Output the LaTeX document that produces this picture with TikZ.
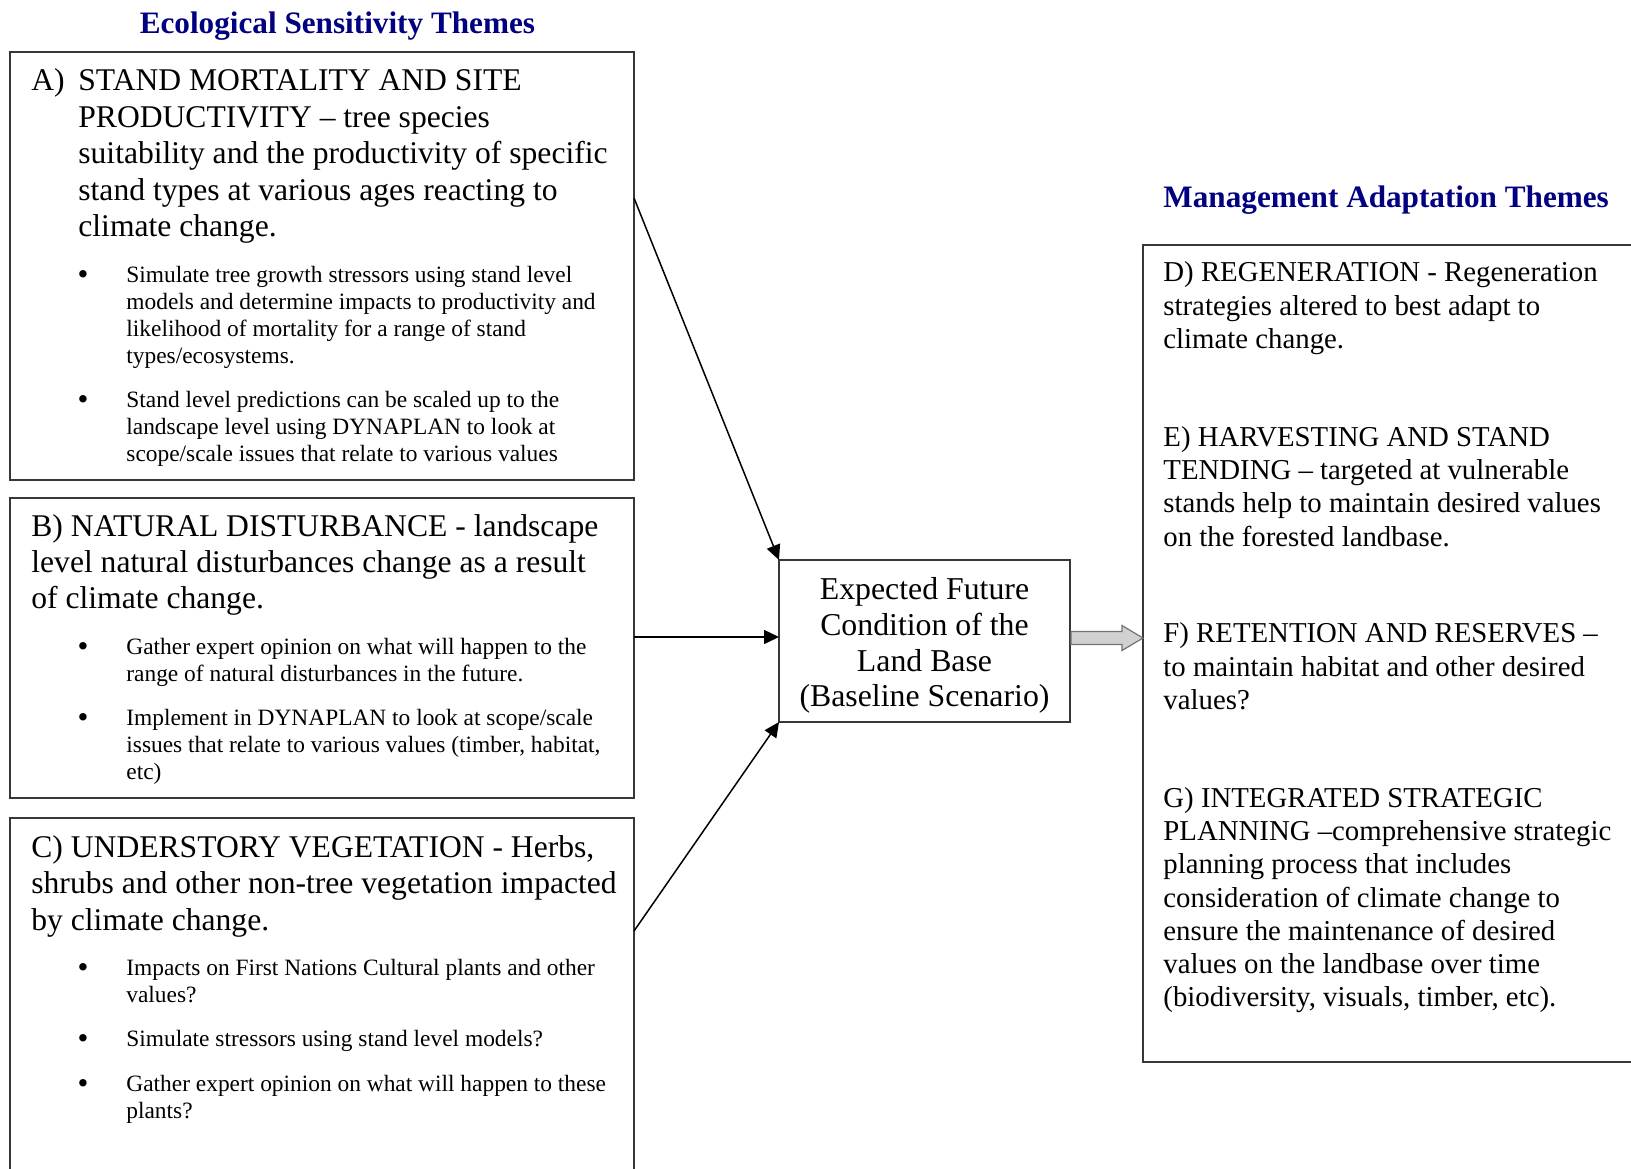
\documentclass[tikz,border=0pt]{standalone}
\usepackage{fontspec}
\setmainfont{Liberation Serif}
\usetikzlibrary{arrows.meta,calc}
\definecolor{navyt}{RGB}{0,0,128}
\definecolor{boxline}{RGB}{55,55,55}
\begin{document}
\begin{tikzpicture}[x=0.5pt,y=-0.5pt,
  box/.style={draw=boxline,line width=0.9pt,anchor=north west,inner sep=0pt,outer sep=0pt},
  ttl/.style={anchor=base west,inner sep=0pt,text=navyt,font=\fontsize{15.6}{18}\selectfont\bfseries},
  head/.style={anchor=north west,inner sep=0pt,align=left,font=\fontsize{15.8}{18.2}\selectfont},
  lbl/.style={anchor=base west,inner sep=0pt,font=\fontsize{15.8}{18.2}\selectfont},
  btxt/.style={anchor=north west,inner sep=0pt,align=left,font=\fontsize{11.7}{13.5}\selectfont},
  bdot/.style={anchor=base,inner sep=0pt,yshift=-1.2pt,font=\fontsize{15.5}{13.5}\selectfont},
  ctxt/.style={anchor=north,inner sep=0pt,align=center,font=\fontsize{15.9}{17.85}\selectfont},
  rtxt/.style={anchor=north west,inner sep=0pt,align=left,font=\fontsize{14.4}{16.65}\selectfont},
  arr/.style={line width=0.75pt,-{Triangle[length=7.5pt,width=7pt]}},
  blockarrow/.style={draw=black!55,fill=black!18,line width=0.6pt},
]
\clip (0,0) rectangle (1631,1168);

% titles
\node[ttl] (t1) at (139.4,33.3) {Ecological Sensitivity Themes};
\node[ttl] (t2) at (1163,207) {Management Adaptation Themes};

% boxes
\node[box,minimum width=312pt,minimum height=214pt] (A) at (10,52) {};
\node[box,minimum width=312pt,minimum height=150pt] (B) at (10,498) {};
\node[box,minimum width=312pt,minimum height=185pt] (C) at (10,818) {};
\node[box,minimum width=145.5pt,minimum height=81pt] (E) at (779,560) {};
\node[box,minimum width=251pt,minimum height=408.5pt] (R) at (1143,245) {};

% box A text
\node[lbl] (Alab) at (31,90.5) {A)};
\node[head] (Ahead) at (78,65) {\strut STAND MORTALITY AND SITE\\PRODUCTIVITY – tree species\\suitability and the productivity of specific\\stand types at various ages reacting to\\climate change.};
\node[bdot] (Ad1) at (83,281.9) {•};
\node[btxt] (Ab1) at (126,263) {\strut Simulate tree growth stressors using stand level\\models and determine impacts to productivity and\\likelihood of mortality for a range of stand\\types/ecosystems.};
\node[bdot] (Ad2) at (83,406.7) {•};
\node[btxt] (Ab2) at (126,387.8) {\strut Stand level predictions can be scaled up to the\\landscape level using DYNAPLAN to look at\\scope/scale issues that relate to various values};

% box B text
\node[head] (Bhead) at (31,510.2) {\strut B) NATURAL DISTURBANCE - landscape\\level natural disturbances change as a result\\of climate change.};
\node[bdot] (Bd1) at (83,654.3) {•};
\node[btxt] (Bb1) at (126,635.4) {\strut Gather expert opinion on what will happen to the\\range of natural disturbances in the future.};
\node[bdot] (Bd2) at (83,725) {•};
\node[btxt] (Bb2) at (126,706.1) {\strut Implement in DYNAPLAN to look at scope/scale\\issues that relate to various values (timber, habitat,\\etc)};

% box C text
\node[head] (Chead) at (31,831.6) {\strut C) UNDERSTORY VEGETATION - Herbs,\\shrubs and other non-tree vegetation impacted\\by climate change.};
\node[bdot] (Cd1) at (83,974.7) {•};
\node[btxt] (Cb1) at (126,955.8) {\strut Impacts on First Nations Cultural plants and other\\values?};
\node[bdot] (Cd2) at (83,1046.4) {•};
\node[btxt] (Cb2) at (126,1027.5) {\strut Simulate stressors using stand level models?};
\node[bdot] (Cd3) at (83,1091.2) {•};
\node[btxt] (Cb3) at (126,1072.3) {\strut Gather expert opinion on what will happen to these\\plants?};

% centre text
\node[ctxt] (Etxt) at (924.5,574.2) {\strut Expected Future\\Condition of the\\Land Base\\(Baseline Scenario)};

% right box text
\node[rtxt] (Dtxt) at (1163,258.2) {\strut D) REGENERATION - Regeneration\\strategies altered to best adapt to\\climate change.};
\node[rtxt] (Etx) at (1163,422.4) {\strut E) HARVESTING AND STAND\\TENDING – targeted at vulnerable\\stands help to maintain desired values\\on the forested landbase.};
\node[rtxt] (Ftxt) at (1163,619) {\strut F) RETENTION AND RESERVES –\\to maintain habitat and other desired\\values?};
\node[rtxt] (Gtxt) at (1163,783.4) {\strut G) INTEGRATED STRATEGIC\\PLANNING –comprehensive strategic\\planning process that includes\\consideration of climate change to\\ensure the maintenance of desired\\values on the landbase over time\\(biodiversity, visuals, timber, etc).};

% connectors
\coordinate (aS) at ($(A.north east)+(0,146)$);
\coordinate (bS) at ($(B.north east)+(0,139)$);
\coordinate (cS) at ($(C.north east)+(0,113)$);
\draw[arr] (aS) -- (E.north west);
\draw[arr] (bS) -- (bS -| E.west);
\draw[arr] (cS) -- (E.south west);

% block arrow
\coordinate (gs) at ($(E.east)+(1,-3)$);
\coordinate (gt) at (gs -| R.west);
\draw[blockarrow] ($(gs)+(0,-6.5)$) -- ($(gt)+(-21,-6.5)$) -- ($(gt)+(-21,-12.5)$) -- (gt)
  -- ($(gt)+(-21,12.5)$) -- ($(gt)+(-21,6.5)$) -- ($(gs)+(0,6.5)$) -- cycle;
\end{tikzpicture}
\end{document}
